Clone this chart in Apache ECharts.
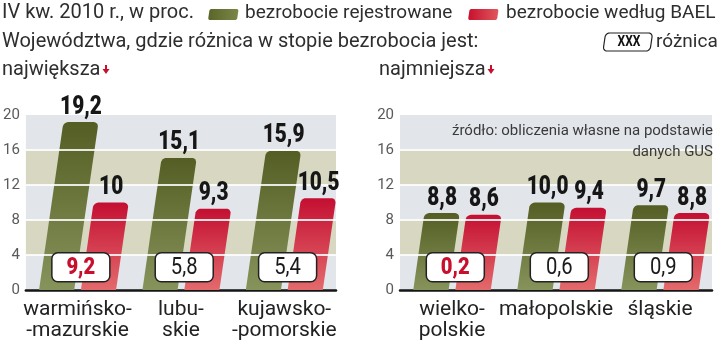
<!DOCTYPE html>
<html>
<head>
<meta charset="utf-8">
<script src="https://cdn.jsdelivr.net/npm/echarts@6/dist/echarts.min.js"></script>
<style>
  html, body { margin: 0; padding: 0; background: #ffffff; }
  #chart { width: 720px; height: 345px; }
</style>
</head>
<body>
<div id="chart"></div>
<script>
// Województwa o największej różnicy
const leftCategories = ['warmińsko-\n-mazurskie', 'lubu-\nskie', 'kujawsko-\n-pomorskie'];
const leftRegistered = [19.2, 15.1, 15.9];
const leftRegisteredText = ['19,2', '15,1', '15,9'];
const leftBael = [10, 9.3, 10.5];
const leftBaelText = ['10', '9,3', '10,5'];
const leftDiffText = ['9,2', '5,8', '5,4'];

// Województwa o najmniejszej różnicy
const rightCategories = ['wielko-\npolskie', 'małopolskie', 'śląskie'];
const rightRegistered = [8.8, 10.0, 9.7];
const rightRegisteredText = ['8,8', '10,0', '9,7'];
const rightBael = [8.6, 9.4, 8.8];
const rightBaelText = ['8,6', '9,4', '8,8'];
const rightDiffText = ['0,2', '0,6', '0,9'];

// wyróżniona różnica (pierwsza w każdym panelu)
const highlighted = [true, false, false];

const yTicks = [0, 4, 8, 12, 16, 20];
const gridLevels = [4, 8, 12, 16];

const FONT = 'Roboto, "Noto Sans", sans-serif';
const RED = '#c8102e';
const SHEAR = 0.145;

const greenFill = () => new echarts.graphic.LinearGradient(0, 0, 0, 1, [
  { offset: 0, color: '#545e24' }, { offset: 1, color: '#86935a' }
]);
const redFill = () => new echarts.graphic.LinearGradient(0, 0, 0, 1, [
  { offset: 0, color: '#c40f32' }, { offset: 1, color: '#e36a6c' }
]);

// prostokąt z zaokrąglonymi rogami, pochylony w prawo względem baseY
function slantedRect(x, yTop, w, yBottom, rTop, rBottom, baseY) {
  const pts = [];
  const n = 6;
  const arc = (cx, cy, r, a0, a1) => {
    for (let i = 0; i <= n; i++) {
      const a = a0 + (a1 - a0) * (i / n);
      pts.push([cx + r * Math.cos(a), cy - r * Math.sin(a)]);
    }
  };
  if (rBottom > 0) arc(x + rBottom, yBottom - rBottom, rBottom, -Math.PI / 2, -Math.PI);
  else pts.push([x, yBottom]);
  if (rTop > 0) {
    arc(x + rTop, yTop + rTop, rTop, Math.PI, Math.PI / 2);
    arc(x + w - rTop, yTop + rTop, rTop, Math.PI / 2, 0);
  } else { pts.push([x, yTop]); pts.push([x + w, yTop]); }
  if (rBottom > 0) arc(x + w - rBottom, yBottom - rBottom, rBottom, 0, -Math.PI / 2);
  else pts.push([x + w, yBottom]);
  return pts.map(p => [p[0] + SHEAR * (baseY - p[1]), p[1]]);
}

function barGeometry(api) {
  const idx = api.value(0);
  const base = api.coord([idx, 0]);
  const band = api.size([1, 0])[0];
  const bw = band * 0.34;
  const gap = band * 0.065;
  return {
    idx, base, bw,
    xReg: base[0] - gap / 2 - bw,
    xBael: base[0] + gap / 2,
    yReg: api.coord([idx, api.value(1)])[1],
    yBael: api.coord([idx, api.value(2)])[1]
  };
}

function renderBars(params, api) {
  const g = barGeometry(api);
  const y0 = g.base[1];
  return {
    type: 'group',
    children: [
      { type: 'polygon', shape: { points: slantedRect(g.xReg, g.yReg, g.bw, y0, 5, 0, y0) },
        style: { fill: greenFill() } },
      { type: 'polygon', shape: { points: slantedRect(g.xBael, g.yBael, g.bw, y0, 5, 0, y0) },
        style: { fill: redFill() } }
    ]
  };
}

function makeLabelRenderer(regText, baelText, diffText) {
  return function (params, api) {
    const g = barGeometry(api);
    const i = g.idx;
    const y0 = g.base[1];
    const topX = (x, y) => x + g.bw / 2 + SHEAR * (y0 - y);
    const boxY = api.coord([i, 2.6])[1];
    const boxW = 58, boxH = 29;
    const boxCx = g.base[0] + SHEAR * (y0 - boxY);
    const hl = highlighted[i];
    const valueText = (x, y, t) => ({
      type: 'text', x: x, y: y, scaleX: 0.8,
      style: { text: t, x: 0, y: 0, fill: '#161616', font: '900 26px ' + FONT,
        align: 'center', verticalAlign: 'bottom', textAlign: 'center', textVerticalAlign: 'bottom' }
    });
    return {
      type: 'group',
      children: [
        valueText(topX(g.xReg, g.yReg), g.yReg - 2, regText[i]),
        valueText(topX(g.xBael, g.yBael), g.yBael - 2, baelText[i]),
        { type: 'rect', shape: { x: boxCx - boxW / 2, y: boxY - boxH / 2, width: boxW, height: boxH, r: 6 },
          style: { fill: '#ffffff', stroke: '#222222', lineWidth: 1.5 } },
        { type: 'text', x: boxCx, y: boxY + 1, scaleX: 0.88,
          style: { text: diffText[i], x: 0, y: 0, fill: hl ? RED : '#1a1a1a',
            font: (hl ? '900 ' : '400 ') + '23px ' + FONT,
            align: 'center', verticalAlign: 'middle', textAlign: 'center', textVerticalAlign: 'middle' } }
      ]
    };
  };
}

function renderGridLine(params, api) {
  const cs = params.coordSys;
  const y = api.coord([0, api.value(1)])[1];
  return {
    type: 'line',
    shape: { x1: cs.x, y1: y, x2: cs.x + cs.width, y2: y },
    style: { stroke: 'rgba(255,255,255,0.85)', lineWidth: 2 }
  };
}

function panelData(reg, bael) {
  return reg.map((v, i) => [i, v, bael[i]]);
}
const gridLineData = gridLevels.map(v => [0, v]);

function xAxisFor(gridIndex, data) {
  return {
    type: 'category', gridIndex, data,
    axisTick: { show: false },
    axisLine: { lineStyle: { color: '#151515', width: 2.5 } },
    axisLabel: { color: '#222', fontSize: 21, lineHeight: 21, fontFamily: FONT, margin: 9, interval: 0 }
  };
}
function yAxisFor(gridIndex) {
  return {
    type: 'value', gridIndex,
    min: yTicks[0], max: yTicks[yTicks.length - 1], interval: yTicks[1] - yTicks[0],
    axisLine: { show: false }, axisTick: { show: false },
    axisLabel: { color: '#5a5a5a', fontSize: 15, fontFamily: FONT, margin: 6 },
    splitLine: { show: false },
    splitArea: { show: true, areaStyle: { color: ['#e2e5ea', '#d8d8c2'] } }
  };
}

function swatch(x, color0, color1) {
  return {
    type: 'polygon', z: 10,
    shape: { points: slantedRect(x, 9, 29, 20, 2, 2, 20) },
    style: { fill: new echarts.graphic.LinearGradient(0, 0, 1, 0, [
      { offset: 0, color: color0 }, { offset: 1, color: color1 }]) }
  };
}
function headText(x, y, t, size) {
  return {
    type: 'text', x: x, y: y, z: 10,
    style: { text: t, x: 0, y: 0, fill: '#2e2e2e', font: (size || 20) + 'px ' + FONT,
      align: 'left', verticalAlign: 'middle', textAlign: 'left', textVerticalAlign: 'middle' }
  };
}
function arrow(x, y) {
  return {
    type: 'polygon', z: 10,
    shape: { points: [[x - 1, y], [x + 1, y], [x + 1, y + 4], [x + 3.5, y + 4], [x, y + 9], [x - 3.5, y + 4], [x - 1, y + 4]] },
    style: { fill: RED }
  };
}

const chart = echarts.init(document.getElementById('chart'), null, { renderer: 'canvas' });
chart.setOption({
  animation: false,
  backgroundColor: '#ffffff',
  grid: [
    { left: 25, top: 115, width: 311, height: 175 },
    { left: 400, top: 115, width: 312, height: 175 }
  ],
  xAxis: [xAxisFor(0, leftCategories), xAxisFor(1, rightCategories)],
  yAxis: [yAxisFor(0), yAxisFor(1)],
  series: [
    { type: 'custom', xAxisIndex: 0, yAxisIndex: 0, z: 2, renderItem: renderBars,
      data: panelData(leftRegistered, leftBael) },
    { type: 'custom', xAxisIndex: 0, yAxisIndex: 0, z: 3, renderItem: renderGridLine, data: gridLineData },
    { type: 'custom', xAxisIndex: 0, yAxisIndex: 0, z: 4,
      renderItem: makeLabelRenderer(leftRegisteredText, leftBaelText, leftDiffText),
      data: panelData(leftRegistered, leftBael) },
    { type: 'custom', xAxisIndex: 1, yAxisIndex: 1, z: 2, renderItem: renderBars,
      data: panelData(rightRegistered, rightBael) },
    { type: 'custom', xAxisIndex: 1, yAxisIndex: 1, z: 3, renderItem: renderGridLine, data: gridLineData },
    { type: 'custom', xAxisIndex: 1, yAxisIndex: 1, z: 4,
      renderItem: makeLabelRenderer(rightRegisteredText, rightBaelText, rightDiffText),
      data: panelData(rightRegistered, rightBael) }
  ],
  graphic: [
    headText(2, 13, 'IV kw. 2010 r., w proc.'),
    swatch(208, '#5b6529', '#7a8748'),
    headText(245, 13, 'bezrobocie rejestrowane', 19),
    swatch(468, '#c8102e', '#e0585c'),
    headText(506, 13, 'bezrobocie według BAEL', 19),
    headText(2, 42, 'Województwa, gdzie różnica w stopie bezrobocia jest:'),
    { type: 'polygon', z: 10,
      shape: { points: slantedRect(603, 33, 47, 51, 4, 4, 51) },
      style: { fill: '#ffffff', stroke: '#222', lineWidth: 1.2 } },
    { type: 'text', x: 629, y: 42, z: 11, scaleX: 0.8,
      style: { text: 'XXX', x: 0, y: 0, fill: '#111', font: '700 15px ' + FONT,
        align: 'center', verticalAlign: 'middle', textAlign: 'center', textVerticalAlign: 'middle' } },
    headText(656, 42, 'różnica', 19),
    headText(2, 70, 'największa'),
    arrow(106, 65),
    headText(379, 70, 'najmniejsza'),
    arrow(491, 65),
    { type: 'text', x: 713, y: 131, z: 10,
      style: { text: 'źródło: obliczenia własne na podstawie', x: 0, y: 0, fill: '#3a3a3a',
        font: '15px ' + FONT, align: 'right', verticalAlign: 'middle', textAlign: 'right', textVerticalAlign: 'middle' } },
    { type: 'text', x: 713, y: 152, z: 10,
      style: { text: 'danych GUS', x: 0, y: 0, fill: '#3a3a3a',
        font: '15px ' + FONT, align: 'right', verticalAlign: 'middle', textAlign: 'right', textVerticalAlign: 'middle' } }
  ]
});
</script>
</body>
</html>
